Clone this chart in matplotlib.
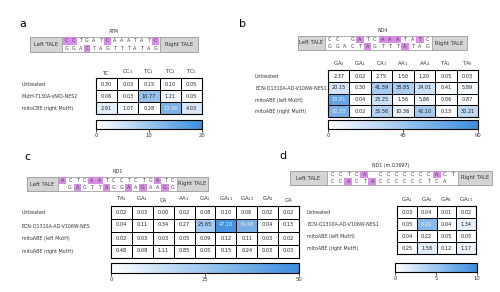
import numpy as np
import matplotlib.pyplot as plt
from matplotlib.colors import LinearSegmentedColormap

# ---- data ----
a_cols = ["TC", "CC$_1$", "TC$_1$", "TC$_1$", "TC$_1$"]
a_rows = ["Untreated", "MutH-T130A-sNID-NES2", "mitoCBE (right MutH)"]
a_vals = [[0.30, 0.03, 0.15, 0.10, 0.05],
          [0.06, 0.03, 10.77, 1.21, 0.05],
          [2.91, 1.07, 0.28, 13.36, 4.03]]

b_cols = ["GA$_2$", "GA$_1$", "CA$_1$", "AA$_1$", "AA$_4$", "TA$_1$", "TA$_0$"]
b_rows = ["Untreated", "ECN-Q1310A-AD-V106W-NES1", "mitoABE (left MutH)", "mitoABE (right MutH)"]
b_vals = [[2.37, 0.02, 2.75, 1.50, 1.20, 0.05, 0.03],
          [20.15, 0.30, 41.59, 38.85, 24.01, 0.41, 5.89],
          [70.81, 0.04, 23.25, 1.56, 5.86, 0.06, 0.87],
          [62.73, 0.02, 35.56, 10.36, 42.10, 0.13, 30.21]]

c_cols = ["TA$_1$", "GA$_1$", "CA", "AA$_1$", "GA$_1$", "GA$_{11}$", "GA$_{12}$", "GA$_1$", "GA"]
c_rows = ["Untreated", "ECN-Q1310A-AD-V106W-NES", "mitoABE (left MutH)", "mitoABE (right MutH)"]
c_vals = [[0.02, 0.03, 0.00, 0.02, 0.08, 0.10, 0.06, 0.02, 0.02],
          [0.04, 0.11, 0.34, 0.27, 23.65, 47.1, 34.48, 0.04, 0.13],
          [0.02, 0.03, 0.03, 0.05, 0.09, 0.12, 0.11, 0.03, 0.02],
          [0.48, 0.08, 1.11, 0.85, 0.05, 0.15, 0.24, 0.03, 0.03]]

d_cols = ["GA$_1$", "GA$_4$", "GA$_8$", "GA$_{11}$"]
d_rows = ["Untreated", "ECN-Q1310A-AD-V106W-NES1", "mitoABE (left MutH)", "mitoABE (right MutH)"]
d_vals = [[0.03, 0.04, 0.01, 0.02],
          [0.05, 6.20, 0.04, 1.34],
          [0.04, 0.22, 0.05, 0.05],
          [0.25, 1.58, 0.12, 1.17]]

# sequences: (top strand, bottom strand, highlighted top idx, highlighted bottom idx)
a_seq = ("CCTGATCAAATATC", "GGACTAGTTTATAG", [0, 1, 6, 13], [3])
b_seq = ("CC GATCAAATATC", "GGACTAGTTTATAG", [4, 7, 8, 9, 12], [5, 10])
c_seq = ("ACTCAATCCTCTGATC", " GAGTTAGGAAGAAGG", [0, 4, 5, 13], [2, 6, 9, 11, 14])
d_seq = ("CCTCA CCCCCCCACT", "CCACTACCCCCCTCA ", [4, 13], [2, 5])

W, H = 500, 292
fig = plt.figure(figsize=(5, 2.92), dpi=100)
cmap = LinearSegmentedColormap.from_list("wb", ["#ffffff", "#3a8ede"])
pink = "#d98ce8"
FS = 3.4


def px(x0, y0, x1, y1):
    return [x0 / W, 1 - y1 / H, (x1 - x0) / W, (y1 - y0) / H]


ov = fig.add_axes([0, 0, 1, 1])
ov.set_xlim(0, W)
ov.set_ylim(H, 0)
ov.axis("off")


def seq_box(x0, x1, y0, y1, lw_end, rw_start, seq, title):
    top, bot, ht, hb = seq
    ov.add_patch(plt.Rectangle((x0, y0), x1 - x0, y1 - y0, fc="white", ec="#a0a0a0", lw=0.6))
    ov.add_patch(plt.Rectangle((x0, y0), lw_end - x0, y1 - y0, fc="#d4d4d4", ec="#a0a0a0", lw=0.6))
    ov.add_patch(plt.Rectangle((rw_start, y0), x1 - rw_start, y1 - y0, fc="#d4d4d4", ec="#a0a0a0", lw=0.6))
    ov.text((x0 + lw_end) / 2, (y0 + y1) / 2, "Left TALE", fontsize=3.8, ha="center", va="center", color="#333333")
    ov.text((rw_start + x1) / 2, (y0 + y1) / 2, "Right TALE", fontsize=3.8, ha="center", va="center", color="#333333")
    n = max(len(top), len(bot))
    step = (rw_start - lw_end - 2) / n
    hh = (y1 - y0) / 2
    for row, (s, hl) in enumerate([(top, ht), (bot, hb)]):
        yc = y0 + hh * (row + 0.5)
        for i, ch in enumerate(s):
            xc = lw_end + 1 + step * (i + 0.5)
            if i in hl:
                ov.add_patch(plt.Rectangle((xc - step / 2, yc - hh / 2), step, hh, fc=pink, ec="none"))
            if ch != " ":
                ov.text(xc, yc, ch, fontsize=3.5, ha="center", va="center", color="#444444")
    ov.text((x0 + x1) / 2, y0 - 3, title, fontsize=3.4, ha="center", va="bottom", color="#333333")


def heat(box, vals, cols, rows, vmax, ticks, cbox, label_x):
    data = np.array(vals)
    ax = fig.add_axes(px(*box))
    m = ax.pcolormesh(data, cmap=cmap, vmin=0, vmax=vmax, edgecolors="black", linewidth=0.5)
    ax.set_xlim(0, data.shape[1])
    ax.set_ylim(data.shape[0], 0)
    for i in range(data.shape[0]):
        for j in range(data.shape[1]):
            v = data[i, j]
            ax.text(j + 0.5, i + 0.5, f"{v:.2f}", ha="center", va="center", fontsize=3.6,
                    color="#eeeeee" if v / vmax > 0.6 else "#222222")
    ax.xaxis.tick_top()
    ax.set_xticks(np.arange(data.shape[1]) + 0.5, cols, fontsize=3.8, color="#333333")
    pad = (box[0] - label_x) * 0.72
    ax.set_yticks(np.arange(data.shape[0]) + 0.5)
    ax.set_yticklabels(rows, fontsize=FS, ha="left", color="#333333")
    ax.tick_params(length=0)
    ax.tick_params(axis="y", pad=pad)
    ax.tick_params(axis="x", pad=1.5)
    for s in ax.spines.values():
        s.set_linewidth(0.8)
    cax = fig.add_axes(px(*cbox))
    cb = fig.colorbar(m, cax=cax, orientation="horizontal", ticks=ticks)
    cb.ax.tick_params(labelsize=3.8, length=2, width=0.5, pad=1, labelcolor="#333333")
    cb.outline.set_linewidth(0.8)
    return ax


# panel a
ov.text(23, 24, "a", fontsize=8, ha="center", va="center")
seq_box(30, 198, 37, 52, 62, 160, a_seq, "ATM")
heat((96, 78, 202, 114), a_vals, a_cols, a_rows, 20, [0, 10, 20], (96, 120, 202, 129), 22)

# panel b
ov.text(242, 24, "b", fontsize=8, ha="center", va="center")
seq_box(298, 467, 36, 50, 325, 432, b_seq, "ND4")
heat((328, 70.5, 478, 117), b_vals, b_cols, b_rows, 90, [0, 45, 90], (328, 120, 478, 129), 255)

# panel c
ov.text(27, 157, "c", fontsize=8, ha="center", va="center")
seq_box(27, 208, 177, 191, 58, 177, c_seq, "ND1")
heat((111, 205.5, 299, 257.5), c_vals, c_cols, c_rows, 50, [0, 25, 50], (111, 263, 299, 273), 22)

# panel d
ov.text(283, 156, "d", fontsize=8, ha="center", va="center")
seq_box(290, 492, 171, 185, 327, 458, d_seq, "ND1 (m.G3697)")
heat((397, 206, 476, 254), d_vals, d_cols, d_rows, 10, [0, 5, 10], (395, 263, 477, 272), 307)

fig.savefig("out.png", dpi=100)
